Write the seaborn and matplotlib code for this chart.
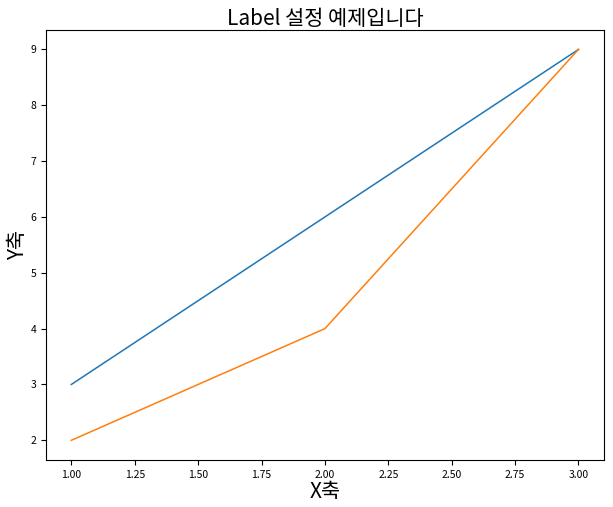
import matplotlib
matplotlib.use("Agg")
import matplotlib.pyplot as plt
import seaborn as sns

x = [1, 2, 3]
y1 = [3, 6, 9]
y2 = [2, 4, 9]

plt.rcParams['font.family'] = ['Noto Sans CJK KR', 'DejaVu Sans']
plt.rcParams['axes.unicode_minus'] = False

fig, ax = plt.subplots(figsize=(6.13, 5.07), dpi=100)
fig.subplots_adjust(left=0.075, right=0.985, top=0.941, bottom=0.093)

sns.lineplot(x=x, y=y1, ax=ax, color='#1f77b4', linewidth=1.1)
sns.lineplot(x=x, y=y2, ax=ax, color='#ff7f0e', linewidth=1.1)

ax.set_title('Label 설정 예제입니다', fontsize=15, pad=3)
ax.set_xlabel('X축', fontsize=15, labelpad=1)
ax.set_ylabel('Y축', fontsize=15, labelpad=1)
ax.tick_params(labelsize=7.5, width=0.8)

fig.savefig('out.png', dpi=100)
